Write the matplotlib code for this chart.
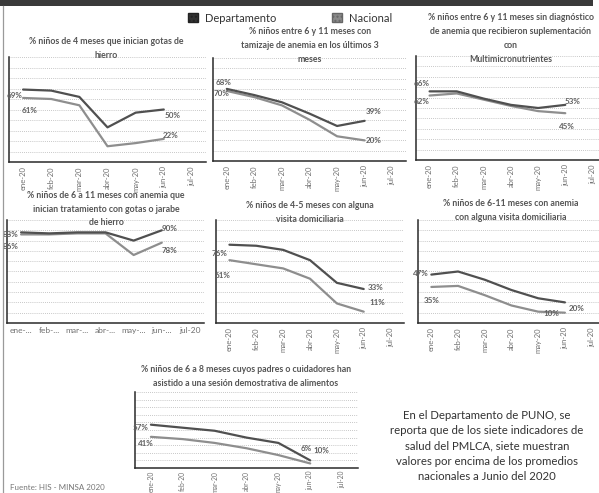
import matplotlib
matplotlib.use("Agg")
import matplotlib.pyplot as plt
from matplotlib.lines import Line2D
from matplotlib.patches import Patch, Rectangle

plt.rcParams["font.family"] = ["Lato", "DejaVu Sans"]

W, H = 599, 493

months = ["ene-20", "feb-20", "mar-20", "abr-20", "may-20", "jun-20", "jul-20"]
months_short = ["ene-...", "feb-...", "mar-...", "abr-...", "may-...", "jun-...", "jul-20"]

titles = [
    ["% niños de 4 meses que inician gotas de", "hierro"],
    ["% niños entre 6 y 11 meses con", "tamizaje de anemia en los últimos 3", "meses"],
    ["% niños entre 6 y 11 meses sin diagnóstico", "de anemia que recibieron suplementación",
     "con", "Multimicronutrientes"],
    ["% niños de 6 a 11 meses con anemia que", "inician tratamiento con gotas o jarabe", "de hierro"],
    ["% niños de 4-5 meses con alguna", "visita domiciliaria"],
    ["% niños de 6-11 meses con anemia", "con alguna visita domiciliaria"],
    ["% niños de 6 a 8 meses cuyos padres o cuidadores han",
     "asistido a una sesión demostrativa de alimentos"],
]

dept = [
    [69, 68, 62, 33, 47, 50],
    [70, 64, 57, 46, 34, 39],
    [66, 66, 59, 53, 50, 53],
    [88, 87, 88, 88, 80, 90],
    [76, 75, 71, 61, 39, 33],
    [47, 50, 42, 32, 24, 20],
    [57, 53, 49, 40, 33, 10],
]
nac = [
    [61, 60, 54, 15, 18, 22],
    [68, 62, 54, 40, 24, 20],
    [62, 64, 58, 52, 47, 45],
    [86, 86, 87, 87, 66, 78],
    [61, 57, 53, 43, 19, 11],
    [35, 36, 27, 17, 11, 10],
    [41, 38, 33, 26, 17, 6],
]

note = ("En el Departamento de PUNO, se\nreporta que de los siete indicadores de\n"
        "salud del PMLCA, siete muestran\nvalores por encima de los promedios\n"
        "nacionales a Junio del 2020")
source = "Fuente: HIS - MINSA 2020"

# layout in pixels: axes (left, top, width, height), title first-line y, label offsets
rects = [(9, 57, 197, 105), (213, 58, 193, 103), (416, 56, 190, 104),
         (7, 220, 197, 103), (216, 220, 188, 103), (418, 220, 187, 103),
         (135, 392, 223, 76)]
title_y = [42, 32, 18, 195, 205, 203, 370]
title_x = [106, 310, 511, 106, 310, 511, 246]
# offsets (px) for dept start, nac start, dept end, nac end labels
offsets = [
    [(-9, -6), (6, -13), (9, -6), (7, 3)],
    [(-5, -5), (-3, 8), (9, 9), (9, 0)],
    [(-8, 8), (-8, -6), (7, 3), (2, -13)],
    [(-10, -2), (-10, -12), (8, 2), (8, -8)],
    [(-10, -9), (-7, -15), (12, 2), (14, 9)],
    [(-11, 1), (0, -14), (12, -6), (-14, -1)],
    [(-10, -3), (-5, -7), (11, 10), (-4, 15)],
]

DEPT_C = "#505050"
NAC_C = "#8e8e8e"

fig = plt.figure(figsize=(W / 100, H / 100), dpi=100)
fig.patch.set_facecolor("white")

# dark strip on top and left page edge
fig.patches.append(Rectangle((0, 1 - 6 / H), 593 / W, 6 / H, transform=fig.transFigure,
                             facecolor="#3a3a3a", edgecolor="none"))
fig.lines.append(Line2D([3 / W, 3 / W], [0, 1 - 6 / H], transform=fig.transFigure,
                        color="#9a9a9a", lw=0.9))

x = list(range(len(months)))
for i in range(7):
    l, t, w, h = rects[i]
    ax = fig.add_axes([l / W, 1 - (t + h) / H, w / W, h / H])
    ax.set_facecolor("none")
    d, n = dept[i], nac[i]
    ax.plot(x[:len(n)], n, color=NAC_C, lw=1.6, solid_capstyle="round")
    ax.plot(x[:len(d)], d, color=DEPT_C, lw=1.6, solid_capstyle="round")
    ax.set_xlim(-0.5, 6.5)
    ax.set_ylim(0, 100)
    ax.set_yticks(range(10, 101, 10))
    ax.yaxis.grid(True, color="#b5b5b5", lw=0.6, ls=(0, (1, 1.5)))
    ax.tick_params(left=False, labelleft=False, length=0, pad=3)
    for s in ("top", "right"):
        ax.spines[s].set_visible(False)
    for s in ("left", "bottom"):
        ax.spines[s].set_color("#2a2a2a")
        ax.spines[s].set_linewidth(1.1)
    ax.set_xticks(x)
    if i == 3:
        ax.set_xticklabels(months_short, fontsize=6, color="#707070")
    elif i == 6:
        ax.tick_params(axis="x", pad=2)
        ax.set_xticklabels(months, fontsize=4.9, color="#707070", rotation=90)
    else:
        ax.set_xticklabels(months, fontsize=5.5, color="#707070", rotation=90)

    pts = [(0, d[0]), (0, n[0]), (len(d) - 1, d[-1]), (len(n) - 1, n[-1])]
    for (px, py), off in zip(pts, offsets[i]):
        ax.annotate(f"{py}%", (px, py), xytext=off, textcoords="offset pixels",
                    ha="center", va="center", fontsize=5.8, color="#606060",
                    fontweight="bold", annotation_clip=False)

    for k, line in enumerate(titles[i]):
        fig.text(title_x[i] / W, 1 - (title_y[i] + k * 14) / H, line, ha="center", va="center",
                 fontsize=6.3, color="#555555", fontweight="bold")

fig.legend(handles=[Patch(facecolor="#333333", edgecolor="#222222", hatch="...."),
                    Patch(facecolor="#8a8a8a", edgecolor="#666666", hatch="....")],
           labels=["Departamento", "Nacional"], loc="center", bbox_to_anchor=(290 / W, 1 - 18 / H),
           ncol=2, frameon=False, fontsize=8, handlelength=0.9, handleheight=0.9,
           columnspacing=5, handletextpad=0.6, labelcolor="#333333")

fig.text(487 / W, 1 - 446 / H, note, ha="center", va="center", fontsize=8.2,
         color="#333333", linespacing=1.45)
fig.text(10 / W, 1 - 488 / H, source, ha="left", va="center", fontsize=5.8, color="#777777")

fig.savefig("out.png", dpi=100)
